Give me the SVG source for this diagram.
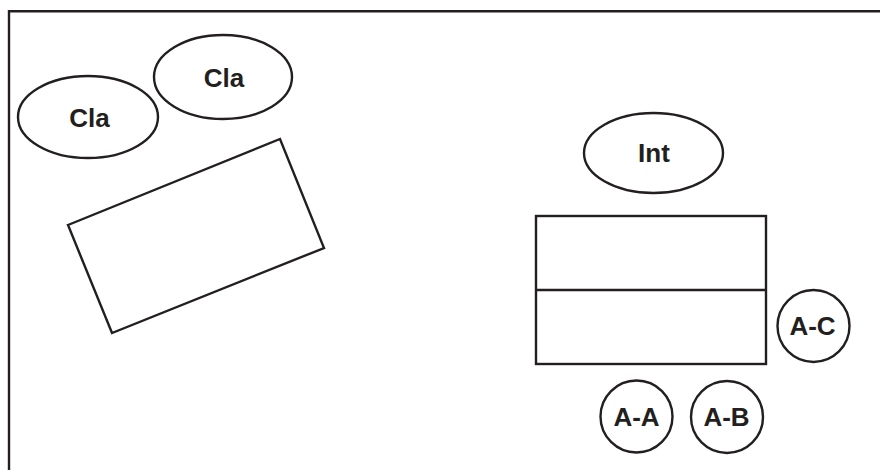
<svg xmlns="http://www.w3.org/2000/svg" width="880" height="470" viewBox="0 0 880 470">
<style>
.s{fill:#fff;stroke:#231f20;stroke-width:2.4}
.t{font-family:"Liberation Sans",Arial,sans-serif;font-weight:bold;font-size:26px;fill:#231f20;text-anchor:middle}
</style>
<rect width="880" height="470" fill="#fff"/>
<g id="frame"><path d="M9,470 V11.3 H880" fill="none" stroke="#231f20" stroke-width="2.4"/></g>
<g id="cla1"><ellipse class="s" cx="88" cy="117" rx="70" ry="41"/><text class="t" x="89.5" y="126.5">Cla</text></g>
<g id="cla2"><ellipse class="s" cx="223" cy="77" rx="69" ry="42"/><text class="t" x="224" y="87">Cla</text></g>
<g id="block"><polygon class="s" points="68,225 280,139 324,248 112,333"/></g>
<g id="int"><ellipse class="s" cx="653.5" cy="153" rx="69.5" ry="40"/><text class="t" x="654" y="162">Int</text></g>
<g id="table"><rect class="s" x="536" y="216" width="230" height="148"/><line class="s" x1="536" y1="290" x2="766" y2="290"/></g>
<g id="ac"><circle class="s" cx="813.5" cy="326" r="36"/><text class="t" x="812.5" y="335">A-C</text></g>
<g id="aa"><circle class="s" cx="636.5" cy="416.5" r="36"/><text class="t" x="636.5" y="426">A-A</text></g>
<g id="ab"><circle class="s" cx="727" cy="417" r="36"/><text class="t" x="726.5" y="426">A-B</text></g>
<g id="connectors"></g>
</svg>
